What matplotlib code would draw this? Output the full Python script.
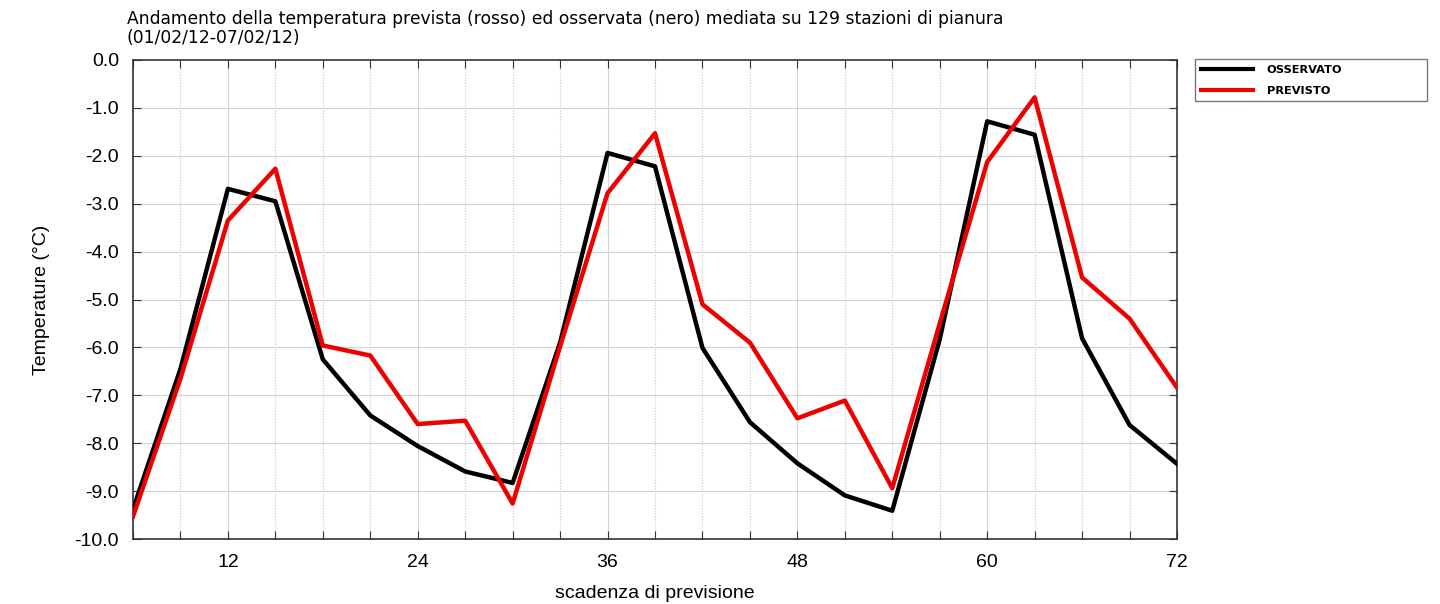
import matplotlib
matplotlib.use("Agg")
import matplotlib.pyplot as plt
from matplotlib.ticker import MultipleLocator, FuncFormatter

plt.rcParams['axes.unicode_minus'] = False

hours = [6, 9, 12, 15, 18, 21, 24, 27, 30, 33, 36, 39, 42, 45, 48, 51, 54, 57, 60, 63, 66, 69, 72]
osservato = [-9.38, -6.45, -2.69, -2.95, -6.25, -7.42, -8.06, -8.59, -8.83, -5.9, -1.94, -2.22,
             -6.01, -7.56, -8.42, -9.09, -9.41, -5.83, -1.28, -1.56, -5.81, -7.62, -8.43]
previsto = [-9.53, -6.65, -3.35, -2.27, -5.96, -6.17, -7.60, -7.53, -9.26, -5.98, -2.78, -1.53,
            -5.10, -5.90, -7.48, -7.11, -8.94, -5.5, -2.13, -0.78, -4.54, -5.40, -6.84]
labels = ["OSSERVATO", "PREVISTO"]
title = ("Andamento della temperatura prevista (rosso) ed osservata (nero) mediata su 129 stazioni di pianura\n"
         "(01/02/12-07/02/12)")

fig = plt.figure(figsize=(14.4, 6.04), dpi=100)
ax = fig.add_axes([133/1440, 1-539/604, (1177-133)/1440, (539-60)/604])

ax.set_xlim(6, 72)
ax.set_ylim(-10, 0)

# grid
for h in hours:
    if h % 12 == 0 and h < 72:
        ax.axvline(h, color='#d4d4d4', lw=0.8, zorder=0)
    elif h < 72:
        ax.axvline(h, color='#c8c8c8', lw=0.8, ls=(0, (1, 1.5)), zorder=0)
for v in range(-9, 0):
    ax.axhline(v, color='#d4d4d4', lw=0.8, zorder=0)

ax.plot(hours, osservato, color='black', lw=3.2, label=labels[0], zorder=3)
ax.plot(hours, previsto, color='#ee0000', lw=3.2, label=labels[1], zorder=4)

ax.xaxis.set_major_locator(MultipleLocator(3))
ax.xaxis.set_major_formatter(FuncFormatter(lambda x, p: f"{int(round(x))}" if round(x) % 12 == 0 else ""))
ax.yaxis.set_major_locator(MultipleLocator(1))
ax.yaxis.set_major_formatter(FuncFormatter(lambda y, p: f"{y:.1f}"))
ax.tick_params(axis='both', direction='in', length=6, width=0.8, color='#333333',
               top=True, right=True, labelsize=14, pad=10)
ax.tick_params(axis='x', pad=11)
for lab in ax.get_xticklabels() + ax.get_yticklabels():
    lab.set_fontfamily('Liberation Sans')
for s in ax.spines.values():
    s.set_color('#333333')
    s.set_linewidth(1.2)

ax.set_xlabel("scadenza di previsione", fontsize=14, family='Liberation Sans', labelpad=10)
ax.set_ylabel("Temperature (\u00b0C)", fontsize=14, family='Liberation Sans', labelpad=18)

fig.text(127/1440, 1-10/604, title, ha='left', va='top', fontsize=12.3, family='DejaVu Sans',
         linespacing=1.08)

leg = ax.legend(loc='upper left', bbox_to_anchor=(1195/1440, 1-99/604, (1427-1195)/1440, 40/604),
                bbox_transform=fig.transFigure, mode='expand', frameon=True, fancybox=False,
                prop={'family': 'DejaVu Sans', 'weight': 'bold', 'size': 8.2},
                handlelength=4.6, handletextpad=1.2, labelspacing=0.95, borderpad=0.5,
                borderaxespad=0)
leg.get_frame().set_edgecolor('#555555')
leg.get_frame().set_linewidth(1.0)
for line in leg.get_lines():
    line.set_linewidth(3)

fig.savefig("out.png", dpi=100)
